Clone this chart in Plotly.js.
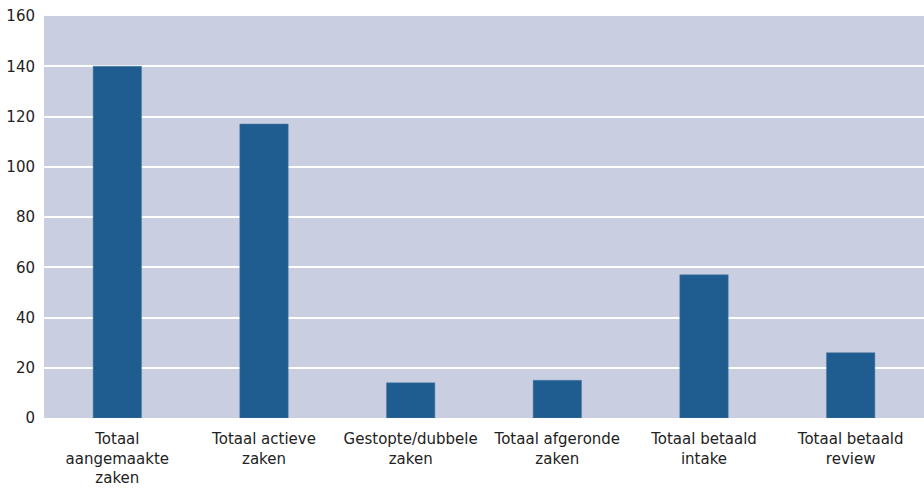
<!DOCTYPE html>
<html><head><meta charset="utf-8">
<script src="https://cdn.plot.ly/plotly-3.0.1.min.js"></script>
<style>html,body{margin:0;padding:0;background:#fff}#chart{width:924px;height:494px}</style>
</head><body><div id="chart"></div>
<script>
const categories = ["Totaal<br>aangemaakte<br>zaken", "Totaal actieve<br>zaken", "Gestopte/dubbele<br>zaken", "Totaal afgeronde<br>zaken", "Totaal betaald<br>intake", "Totaal betaald<br>review"];
const values = [140, 117, 14, 15, 57, 26];
const yTicks = [0, 20, 40, 60, 80, 100, 120, 140, 160];

Plotly.newPlot('chart', [{
  type: 'bar', x: categories, y: values,
  marker: {color: '#1F5C8F', line: {color: '#4a7aa6', width: 0.5}},
  hoverinfo: 'none'
}], {
  width: 924, height: 494,
  margin: {l: 44, r: 0, t: 16, b: 76},
  paper_bgcolor: '#ffffff', plot_bgcolor: '#C9CFE0',
  bargap: 0.67,
  font: {family: '"DejaVu Sans", Verdana, sans-serif', size: 15, color: '#222222'},
  showlegend: false,
  xaxis: {showgrid: false, zeroline: false, showline: false, tickfont: {size: 15}, ticks: '', ticklabelstandoff: 10},
  yaxis: {range: [0, 160], tickvals: yTicks, showgrid: true, gridcolor: '#ffffff', gridwidth: 2,
          zeroline: false, showline: false, ticks: '', ticklabelstandoff: 8, tickfont: {size: 15}}
}, {displayModeBar: false, staticPlot: true});
</script></body></html>
